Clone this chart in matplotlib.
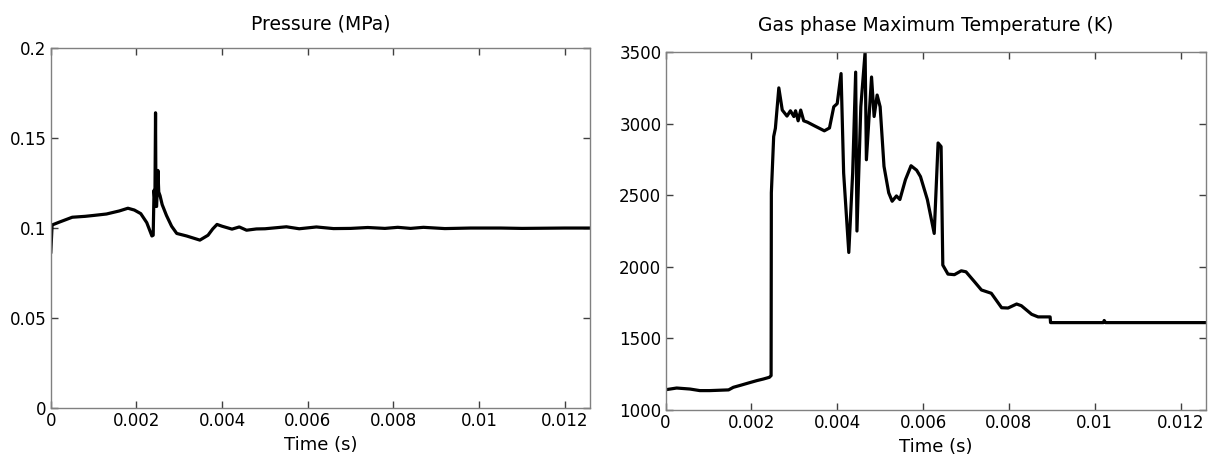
import matplotlib
matplotlib.use("Agg")
import matplotlib.pyplot as plt
from matplotlib.ticker import FuncFormatter, MultipleLocator

# DATA (time in ms)
p_time_ms = [0, 0.03, 0.2, 0.5, 0.8, 1.0, 1.3, 1.6, 1.8, 1.95, 2.1, 2.24, 2.36,
             2.39, 2.41, 2.43, 2.445, 2.455, 2.47, 2.50, 2.52, 2.55, 2.6, 2.7,
             2.82, 2.94, 3.17, 3.48, 3.67, 3.78, 3.88, 4.0, 4.23, 4.4, 4.57, 4.8,
             5.0, 5.5, 5.8, 6.2, 6.6, 7.0, 7.4, 7.8, 8.1, 8.4, 8.7, 9.2, 9.8,
             10.5, 11.0, 12.0, 12.6]
pressure = [0.0867, 0.1017, 0.1033, 0.106, 0.1065, 0.107, 0.1078, 0.1095, 0.111,
            0.110, 0.108, 0.103, 0.0956, 0.096, 0.121, 0.115, 0.164, 0.112, 0.112,
            0.132, 0.120, 0.118, 0.113, 0.107, 0.101, 0.097, 0.0956, 0.0933, 0.096,
            0.0995, 0.102, 0.101, 0.0994, 0.1006, 0.0988, 0.0995, 0.0996, 0.1007,
            0.0996, 0.1006, 0.0997, 0.0998, 0.1003, 0.0998, 0.1004, 0.0998, 0.1004,
            0.0997, 0.1, 0.1, 0.0998, 0.1, 0.1]

t_time_ms = [0, 0.26, 0.57, 0.8, 1.03, 1.47, 1.58, 1.77, 1.93, 2.13, 2.28, 2.42,
             2.46, 2.466, 2.52, 2.56, 2.64, 2.72, 2.83, 2.91, 2.99, 3.03, 3.09,
             3.15, 3.22, 3.31, 3.47, 3.70, 3.82, 3.92, 4.0, 4.09, 4.15, 4.27, 4.36,
             4.43, 4.46, 4.55, 4.65, 4.68, 4.8, 4.86, 4.93, 5.0, 5.09, 5.2, 5.28,
             5.38, 5.46, 5.59, 5.72, 5.85, 5.94, 6.1, 6.26, 6.35, 6.42, 6.46, 6.58,
             6.73, 6.89, 7.0, 7.2, 7.36, 7.59, 7.83, 7.98, 8.18, 8.29, 8.53, 8.68,
             8.96, 8.97, 10.2, 10.22, 10.25, 12.6]
temperature = [1141, 1153, 1146, 1135, 1135, 1140, 1158, 1174, 1188, 1205, 1216,
               1228, 1240, 2517, 2910, 2968, 3250, 3095, 3053, 3090, 3050, 3090,
               3020, 3095, 3020, 3010, 2985, 2950, 2970, 3118, 3140, 3350, 2655,
               2100, 2655, 3360, 2250, 3118, 3500, 2748, 3326, 3050, 3200, 3118,
               2702, 2517, 2458, 2495, 2470, 2609, 2706, 2675, 2630, 2470, 2233,
               2865, 2840, 2012, 1949, 1945, 1972, 1965, 1895, 1838, 1815, 1714,
               1712, 1740, 1728, 1668, 1650, 1650, 1610, 1610, 1625, 1610, 1610]

X_TICKS = [0, 0.002, 0.004, 0.006, 0.008, 0.01, 0.012]
X_MAX = 0.0126

fmt = FuncFormatter(lambda v, pos: f"{v:g}")


def style_axes(ax):
    for s in ax.spines.values():
        s.set_color("#808080")
        s.set_linewidth(1.0)
    ax.tick_params(direction="in", top=True, right=True, length=5,
                   width=1, color="#404040", labelsize=12, pad=3)
    ax.set_xticks(X_TICKS)
    ax.set_xlim(0, X_MAX)
    ax.xaxis.set_major_formatter(fmt)
    ax.yaxis.set_major_formatter(fmt)
    ax.set_xlabel("Time (s)", fontsize=13, labelpad=4)


fig = plt.figure(figsize=(12.1, 4.57), dpi=100)

ax1 = fig.add_axes([0.042, 0.107, 0.446, 0.788])
ax1.plot([t / 1000 for t in p_time_ms], pressure, color="black", lw=2.3)
ax1.set_ylim(0, 0.2)
ax1.yaxis.set_major_locator(MultipleLocator(0.05))
ax1.set_title("Pressure (MPa)", fontsize=13.5, pad=13)
style_axes(ax1)

ax2 = fig.add_axes([0.550, 0.103, 0.447, 0.783])
ax2.plot([t / 1000 for t in t_time_ms], temperature, color="black", lw=2.3)
ax2.set_ylim(1000, 3500)
ax2.yaxis.set_major_locator(MultipleLocator(500))
ax2.set_title("Gas phase Maximum Temperature (K)", fontsize=13.5, pad=15)
style_axes(ax2)

fig.savefig("out.png", dpi=100)
